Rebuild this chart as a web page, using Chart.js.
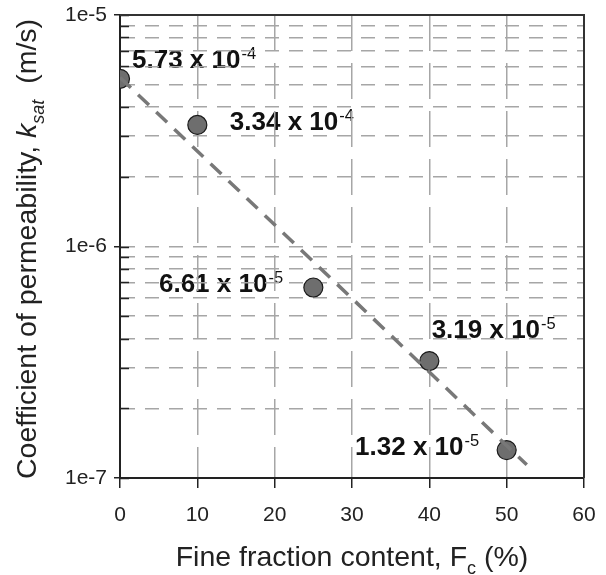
<!DOCTYPE html>
<html><head><meta charset="utf-8">
<script src="https://cdn.jsdelivr.net/npm/chart.js@4/dist/chart.umd.min.js"></script>
<style>html,body{margin:0;padding:0;background:#fff}#wrap{width:606px;height:575px}</style>
</head><body><div id="wrap"><canvas id="c" width="606" height="575"></canvas></div>
<script>
const fineContent = [0, 10, 25, 40, 50];
const ksat = [5.3e-6, 3.35e-6, 6.65e-7, 3.2e-7, 1.32e-7];
const trendX = [0, 52.6];
const trendY = [5.37e-6, 1.14e-7];
const labelMantissa = ['5.73', '3.34', '6.61', '3.19', '1.32'];
const labelExponent = ['-4', '-4', '-5', '-5', '-5'];
const labelX = [1.55, 14.2, 5.04, 40.3, 30.4];
const labelY = [5.9e-6, 3.19e-6, 6.36e-7, 4.03e-7, 1.257e-7];
const xTicks = [0, 10, 20, 30, 40, 50, 60];
const yTicks = [1e-7, 2e-7, 3e-7, 4e-7, 5e-7, 6e-7, 7e-7, 8e-7, 9e-7,
                1e-6, 2e-6, 3e-6, 4e-6, 5e-6, 6e-6, 7e-6, 8e-6, 9e-6, 1e-5];
const yMajor = [1e-7, 1e-6, 1e-5];
const xTitle = [['Fine fraction content, F', 'normal'], ['c', 'sub'], [' (%)', 'normal']];
const yTitle = [['Coefficient of permeability, ', 'normal'], ['k', 'italic'], ['sat', 'italicsub'], ['  (m/s)', 'normal']];

const FAM = '"Liberation Sans", Arial, sans-serif';
const isMajor = v => yMajor.some(m => Math.abs(v - m) / m < 1e-6);

function segFont(kind) {
  if (kind === 'normal') return '28.5px ' + FAM;
  if (kind === 'italic') return 'italic 28.5px ' + FAM;
  if (kind === 'italicsub') return 'italic 18px ' + FAM;
  return '18px ' + FAM;
}
function drawSegs(ctx, segs, cx, baseY) {
  let total = 0;
  segs.forEach(s => { ctx.font = segFont(s[1]); total += ctx.measureText(s[0]).width; });
  let x = cx - total / 2;
  segs.forEach(s => {
    ctx.font = segFont(s[1]);
    const dy = (s[1] === 'sub' || s[1] === 'italicsub') ? 8 : 0;
    ctx.fillText(s[0], x, baseY + dy);
    x += ctx.measureText(s[0]).width;
  });
}

const decor = {
  id: 'decor',
  beforeDraw(chart) {
    const ctx = chart.ctx, xs = chart.scales.x, ys = chart.scales.y;
    ctx.save();
    ctx.fillStyle = '#111';
    ctx.textBaseline = 'alphabetic';
    ctx.textAlign = 'left';
    for (let i = 0; i < labelMantissa.length; i++) {
      const px = xs.getPixelForValue(labelX[i]);
      const py = ys.getPixelForValue(labelY[i]);
      ctx.font = 'bold 26px ' + FAM;
      const t = labelMantissa[i] + ' x 10';
      ctx.fillText(t, px, py);
      const w = ctx.measureText(t).width;
      ctx.font = '16.5px ' + FAM;
      ctx.fillText(labelExponent[i], px + w + 1, py - 9);
    }
    ctx.restore();
  },
  beforeDatasetsDraw(chart) {
    const ctx = chart.ctx, a = chart.chartArea, ys = chart.scales.y;
    ctx.save();
    ctx.strokeStyle = '#222';
    ctx.lineWidth = 1.5;
    yTicks.forEach(v => {
      const py = Math.round(ys.getPixelForValue(v)) + 0.5;
      ctx.beginPath(); ctx.moveTo(a.left, py); ctx.lineTo(a.left + 9, py); ctx.stroke();
    });
    ctx.strokeStyle = '#333';
    ctx.lineWidth = 2;
    ctx.beginPath();
    ctx.moveTo(a.left, a.top); ctx.lineTo(a.right, a.top); ctx.lineTo(a.right, a.bottom);
    ctx.stroke();
    ctx.restore();
  },
  afterDraw(chart) {
    const ctx = chart.ctx, a = chart.chartArea;
    ctx.save();
    ctx.fillStyle = '#222';
    ctx.textBaseline = 'alphabetic';
    ctx.textAlign = 'left';
    drawSegs(ctx, xTitle, (a.left + a.right) / 2, 566);
    ctx.translate(36, 249);
    ctx.rotate(-Math.PI / 2);
    drawSegs(ctx, yTitle, 0, 0);
    ctx.restore();
  }
};

new Chart(document.getElementById('c').getContext('2d'), {
  type: 'scatter',
  data: {
    datasets: [
      { type: 'line', data: trendX.map((x, i) => ({ x: x, y: trendY[i] })),
        borderColor: '#787878', borderWidth: 3.5, borderDash: [15, 10], pointRadius: 0,
        fill: false, tension: 0, order: 0 },
      { data: fineContent.map((x, i) => ({ x: x, y: ksat[i] })),
        backgroundColor: '#6e6e6e', borderColor: '#1a1a1a', borderWidth: 1.2,
        pointRadius: 9.5, pointHoverRadius: 9.5, order: 1 }
    ]
  },
  options: {
    responsive: false, animation: false, devicePixelRatio: 1,
    layout: { padding: { top: 15, right: 22, left: 0, bottom: 0 } },
    plugins: { legend: { display: false }, tooltip: { enabled: false } },
    scales: {
      x: {
        type: 'linear', min: 0, max: 60,
        afterBuildTicks: s => { s.ticks = xTicks.map(v => ({ value: v })); },
        afterFit: s => { s.height = 97; s.paddingLeft = 0; s.paddingRight = 0; },
        grid: {
          color: c => (c.tick && (c.tick.value === 0 || c.tick.value === 60)) ? 'rgba(0,0,0,0)' : '#a6a6a6',
          lineWidth: 1.5, drawTicks: true, tickLength: 10, tickColor: '#222', tickWidth: 1.5
        },
        border: { display: true, color: '#222', width: 2, dash: [36, 12] },
        ticks: { font: { family: FAM, size: 21 }, color: '#222', padding: 15, maxRotation: 0, autoSkip: false }
      },
      y: {
        type: 'logarithmic', min: 1e-7, max: 1e-5,
        afterBuildTicks: s => { s.ticks = yTicks.map(v => ({ value: v })); },
        afterFit: s => { s.width = 120; s.paddingTop = 0; s.paddingBottom = 0; },
        grid: {
          color: '#a6a6a6', lineWidth: 1.5, drawTicks: true, tickLength: 6,
          tickColor: c => (c.tick && isMajor(c.tick.value)) ? '#222' : 'rgba(0,0,0,0)', tickWidth: 1.5
        },
        border: { display: true, color: '#222', width: 2, dash: [14, 10] },
        ticks: {
          autoSkip: false, padding: 7, color: '#222', font: { family: FAM, size: 21 },
          callback: v => isMajor(v) ? ('1e' + Math.round(Math.log10(v))) : ''
        }
      }
    }
  },
  plugins: [decor]
});
</script>
</body></html>
